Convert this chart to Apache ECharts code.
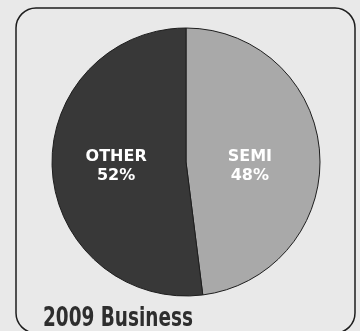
<!DOCTYPE html>
<html>
<head>
<meta charset="utf-8">
<script src="https://cdn.jsdelivr.net/npm/echarts@6/dist/echarts.min.js"></script>
<style>
  html, body { margin: 0; padding: 0; background: #e9e9e9; }
  #chart { width: 360px; height: 331px; }
</style>
</head>
<body>
<div id="chart"></div>
<script>
const segmentNames = ['SEMI', 'OTHER']
const segmentShares = [48, 52]
const segmentColors = ['#a9a9a9', '#383838']
const chartTitle = '2009 Business'

// small nudges so the labels sit where the print has them
const labelOffsets = [[-6, 9], [0, 0]]

const chart = echarts.init(document.getElementById('chart'))

chart.setOption({
  backgroundColor: '#e9e9e9',
  animation: false,
  graphic: [
    {
      type: 'rect',
      silent: true,
      z: -2,
      shape: { x: 16, y: 8, width: 339, height: 325, r: 20 },
      style: { fill: 'transparent', stroke: '#1e1e1e', lineWidth: 1.5 },
    },
    {
      // gap in the frame behind the heading
      type: 'rect',
      silent: true,
      z: -1,
      shape: { x: 38, y: 316, width: 158, height: 15 },
      style: { fill: '#e9e9e9' },
    },
    {
      type: 'text',
      silent: true,
      x: 43,
      y: 305,
      scaleX: 0.76,
      style: {
        text: chartTitle,
        fill: '#2e2e2e',
        font: 'bold 27px "DejaVu Sans Condensed", sans-serif',
      },
    },
  ],
  series: [
    {
      type: 'pie',
      center: [186, 162],
      radius: 134,
      startAngle: 90,
      clockwise: true,
      silent: true,
      data: segmentNames.map((name, i) => ({
        name,
        value: segmentShares[i],
        itemStyle: { color: segmentColors[i] },
        label: { offset: labelOffsets[i] },
      })),
      itemStyle: { borderColor: '#1e1e1e', borderWidth: 1 },
      label: {
        show: true,
        position: 'inside',
        formatter: (p) => `${p.name}\n${p.value}%`,
        color: '#ffffff',
        fontFamily: '"DejaVu Sans", sans-serif',
        fontWeight: 'bold',
        fontSize: 16,
        lineHeight: 19,
      },
      labelLine: { show: false },
    },
  ],
})
</script>
</body>
</html>
